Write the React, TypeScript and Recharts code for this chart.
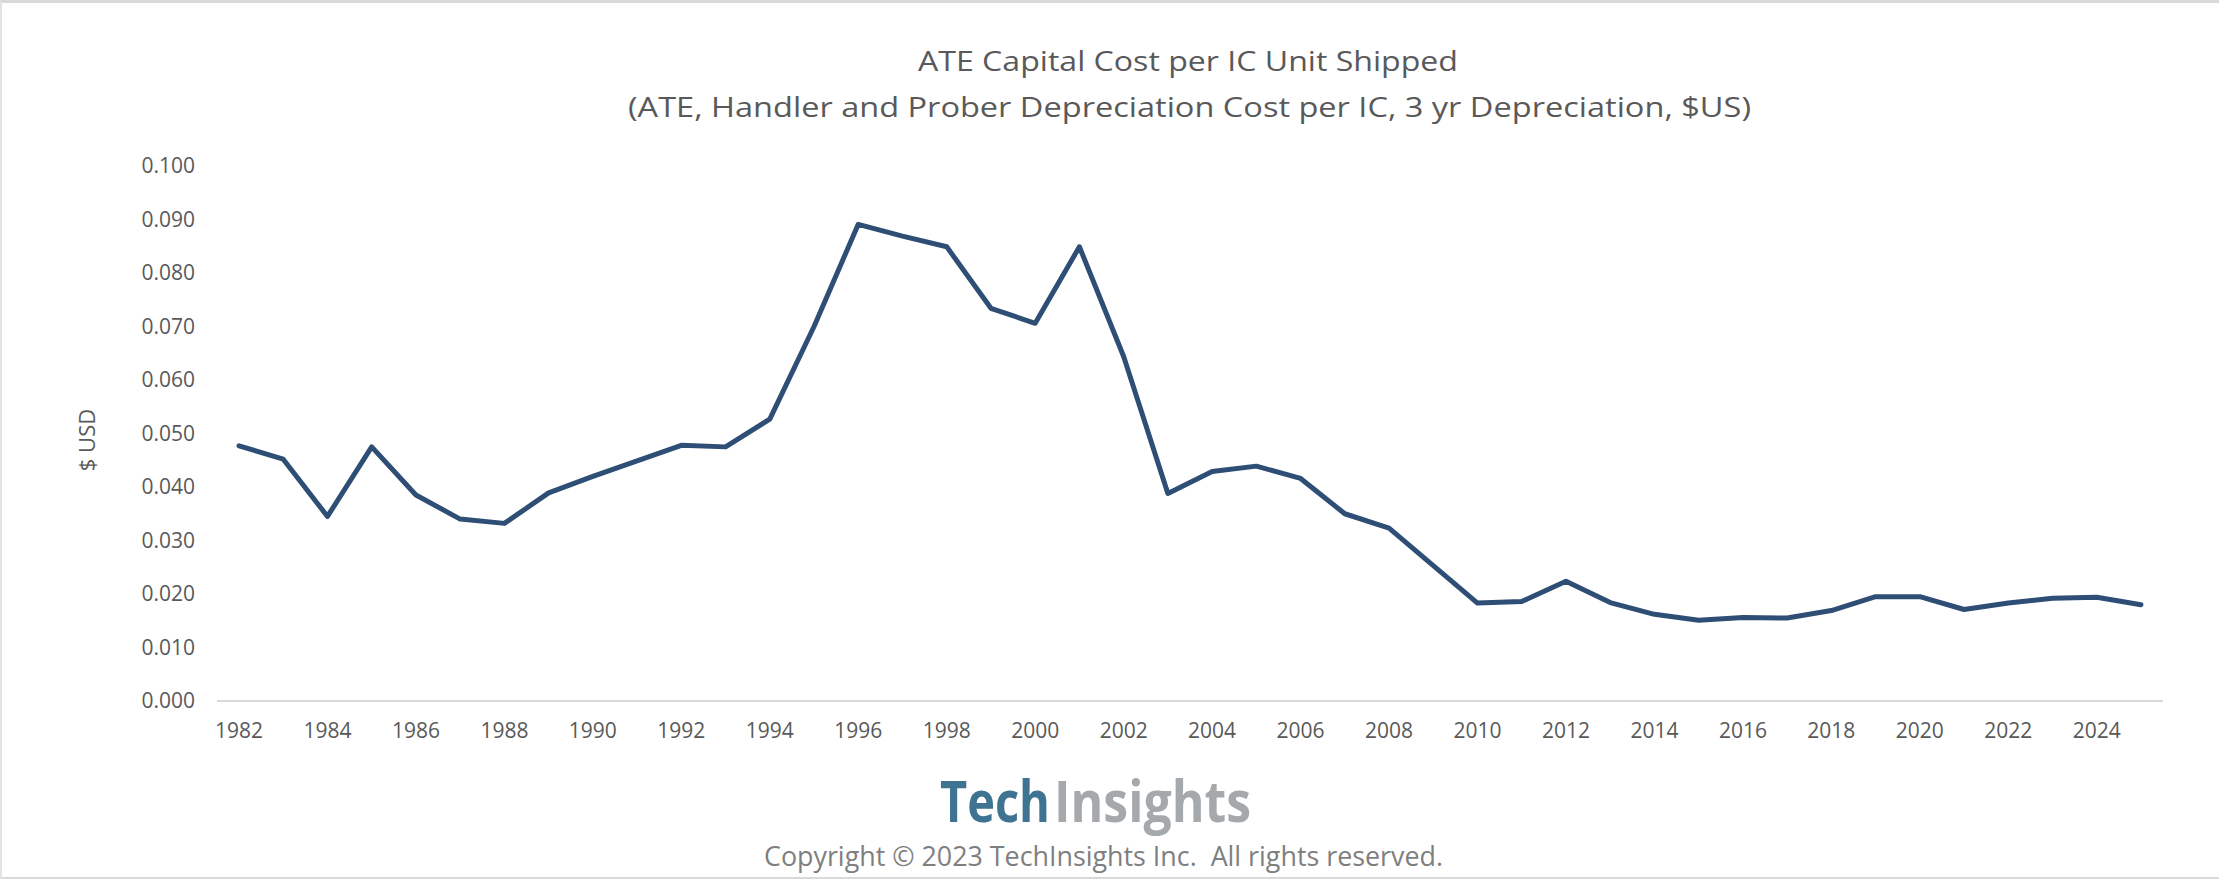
import React from 'react';
import { LineChart, Line, XAxis, YAxis } from 'recharts';

const years = [
  '1982', '1983', '1984', '1985', '1986', '1987', '1988', '1989', '1990', '1991',
  '1992', '1993', '1994', '1995', '1996', '1997', '1998', '1999', '2000', '2001',
  '2002', '2003', '2004', '2005', '2006', '2007', '2008', '2009', '2010', '2011',
  '2012', '2013', '2014', '2015', '2016', '2017', '2018', '2019', '2020', '2021',
  '2022', '2023', '2024', '2025',
];

// ATE + handler + prober depreciation cost per IC, $US
const costPerIC = [
  0.0477, 0.0452, 0.0345, 0.0475, 0.0385, 0.0340, 0.0332, 0.0389, 0.0420, 0.0449,
  0.0478, 0.0475, 0.0527, 0.0700, 0.0891, 0.0869, 0.0849, 0.0734, 0.0706, 0.0849,
  0.0644, 0.0388, 0.0429, 0.0439, 0.0416, 0.0350, 0.0323, 0.0253, 0.0183, 0.0186,
  0.0224, 0.0184, 0.0162, 0.0151, 0.0156, 0.0155, 0.0169, 0.0195, 0.0195, 0.0171,
  0.0183, 0.0192, 0.0194, 0.0180,
];

const yTicks = [0, 0.01, 0.02, 0.03, 0.04, 0.05, 0.06, 0.07, 0.08, 0.09, 0.1];

const W = 2219;
const H = 879;
const FONT = "'Open Sans', 'Noto Sans', sans-serif";
const TEXT = '#595959';

export default function App() {
  const data = years.map((year, i) => ({ year, cost: costPerIC[i] }));

  return (
    <div style={{ position: 'absolute', top: 0, left: 0, width: W, height: H, background: '#fff', fontFamily: FONT }}>
      <LineChart
        width={W}
        height={H}
        data={data}
        margin={{ top: 166, right: 56, bottom: 138, left: 117 }}
      >
        <XAxis
          dataKey="year"
          interval={1}
          height={40}
          padding={{ left: 22, right: 22 }}
          axisLine={{ stroke: '#d9d9d9', strokeWidth: 2 }}
          tickLine={false}
          tickSize={6}
          tickMargin={16}
          tick={{ fill: TEXT, fontSize: 21, fontFamily: FONT }}
        />
        <YAxis
          width={100}
          domain={[0, 0.1]}
          ticks={yTicks}
          interval={0}
          axisLine={false}
          tickLine={false}
          tickSize={6}
          tickMargin={16}
          tickFormatter={(v: number) => v.toFixed(3)}
          tick={{ fill: TEXT, fontSize: 21, fontFamily: FONT }}
        />
        <Line
          type="linear"
          dataKey="cost"
          stroke="#2E4E76"
          strokeWidth={5}
          strokeLinejoin="round"
          strokeLinecap="round"
          dot={false}
          activeDot={false}
          isAnimationActive={false}
        />
      </LineChart>

      <svg
        width={W}
        height={H}
        style={{ position: 'absolute', top: 0, left: 0, pointerEvents: 'none' }}
      >
        <text x={918} y={71} textLength={540} lengthAdjust="spacingAndGlyphs" fontSize={27} fill={TEXT} fontFamily={FONT}>
          ATE Capital Cost per IC Unit Shipped
        </text>
        <text x={628} y={117} textLength={1123} lengthAdjust="spacingAndGlyphs" fontSize={27} fill={TEXT} fontFamily={FONT}>
          (ATE, Handler and Prober Depreciation Cost per IC, 3 yr Depreciation, $US)
        </text>
        <text
          x={86}
          y={440}
          transform="rotate(-90 86 440)"
          textAnchor="middle"
          dominantBaseline="central"
          fontSize={22}
          fill={TEXT}
          fontFamily={FONT}
        >
          $ USD
        </text>
        {/* logo: stretched a little vertically to get the tall, narrow look */}
        <g transform="translate(0 822) scale(1 1.18) translate(0 -822)">
          <text x={940} y={822} textLength={110} lengthAdjust="spacingAndGlyphs" fontSize={48} fontWeight={700} fill="#3E7391" fontFamily={FONT}>
            Tech
          </text>
          <text x={1054} y={822} textLength={197} lengthAdjust="spacingAndGlyphs" fontSize={48} fontWeight={700} fill="#A6A9AC" fontFamily={FONT}>
            Insights
          </text>
        </g>
        <text x={764} y={866} textLength={679} lengthAdjust="spacingAndGlyphs" fontSize={27} fill="#7F7F7F" fontFamily={FONT}>
          {'Copyright © 2023 TechInsights Inc.\u00a0 All rights reserved.'}
        </text>
      </svg>

      <div
        style={{
          position: 'absolute',
          inset: 0,
          boxSizing: 'border-box',
          borderTop: '3px solid #d9d9d9',
          borderLeft: '2px solid #e3e3e3',
          borderBottom: '2px solid #d9d9d9',
          pointerEvents: 'none',
        }}
      />
    </div>
  );
}
